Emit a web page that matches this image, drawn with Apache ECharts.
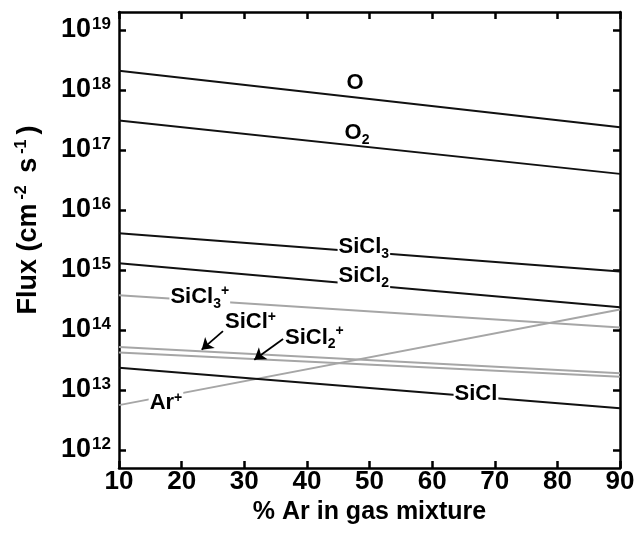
<!DOCTYPE html>
<html>
<head>
<meta charset="utf-8">
<script src="https://cdn.jsdelivr.net/npm/echarts@6/dist/echarts.min.js"></script>
<style>
  html, body { margin: 0; padding: 0; background: #fff; }
  #chart { width: 638px; height: 534px; }
</style>
</head>
<body>
<div id="chart"></div>
<script>
var FONT = 'Liberation Sans, Arial, sans-serif'

// % Ar in gas mixture (end points of each straight line)
var xValues = [10, 90]
var xTicks = [10, 20, 30, 40, 50, 60, 70, 80, 90]
var yTicks = [1e12, 1e13, 1e14, 1e15, 1e16, 1e17, 1e18, 1e19]

// fluxes (cm-2 s-1)
var fluxO = [2.1e18, 2.4e17]
var fluxO2 = [3.1e17, 4.0e16]
var fluxSiCl3 = [4.1e15, 9.4e14]
var fluxSiCl2 = [1.3e15, 2.4e14]
var fluxSiCl3p = [3.8e14, 1.1e14]
var fluxSiClp = [5.2e13, 1.9e13]
var fluxSiCl2p = [4.2e13, 1.67e13]
var fluxSiCl = [2.35e13, 4.95e12]
var fluxArp = [5.6e12, 2.2e14]

function pairs(arr) {
  return xValues.map(function (x, i) { return [x, arr[i]] })
}

var labelRich = {
  m: { fontSize: 22, fontWeight: 'bold', fontFamily: FONT, color: '#000' },
  sub: { fontSize: 14, fontWeight: 'bold', fontFamily: FONT, color: '#000', verticalAlign: 'bottom', padding: [13, 0, 0, 0] },
  sup: { fontSize: 14, fontWeight: 'bold', fontFamily: FONT, color: '#000', verticalAlign: 'top', padding: [0, 0, 11, 0] }
}

// text label placed on a line
function tag(coord, text, whiteBg) {
  return {
    symbol: 'circle',
    symbolSize: 0,
    silent: true,
    data: [{
      coord: coord,
      label: {
        show: true,
        position: 'inside',
        formatter: text,
        rich: labelRich,
        backgroundColor: whiteBg ? '#fff' : 'transparent',
        padding: whiteBg ? [0, 1, 0, 1] : 0
      }
    }]
  }
}

// small arrow pointing at a line
function arrow(from, to) {
  return {
    silent: true,
    symbol: ['none', 'arrow'],
    symbolSize: 11,
    label: { show: false },
    lineStyle: { color: '#000', width: 1.8, type: 'solid' },
    itemStyle: { color: '#000' },
    data: [[{ coord: from }, { coord: to }]]
  }
}

function lineSeries(name, arr, color, width, z) {
  return {
    name: name,
    type: 'line',
    data: pairs(arr),
    showSymbol: false,
    symbol: 'none',
    z: z,
    lineStyle: { color: color, width: width },
    emphasis: { disabled: true }
  }
}

var BLACK = '#111'
var GRAY = '#a6a6a6'

var series = [
  lineSeries('Ar+', fluxArp, GRAY, 2, 2),
  lineSeries('SiCl3+', fluxSiCl3p, GRAY, 2, 2),
  lineSeries('SiCl+', fluxSiClp, GRAY, 2, 2),
  lineSeries('SiCl2+', fluxSiCl2p, GRAY, 2, 2),
  lineSeries('O', fluxO, BLACK, 2, 3),
  lineSeries('O2', fluxO2, BLACK, 2, 3),
  lineSeries('SiCl3', fluxSiCl3, BLACK, 2, 3),
  lineSeries('SiCl2', fluxSiCl2, BLACK, 2, 3),
  lineSeries('SiCl', fluxSiCl, BLACK, 2, 3)
]

series[0].markPoint = tag([17.5, 6.0e12], '{m|Ar}{sup|+}', true)
series[1].markPoint = tag([22.9, 3.5e14], '{m|SiCl}{sub|3}{sup|+}', true)
series[2].markPoint = tag([31.0, 1.35e14], '{m|SiCl}{sup|+}', false)
series[2].markLine = arrow([26.6, 9.6e13], [23.2, 4.7e13])
series[3].markPoint = tag([41.2, 7.4e13], '{m|SiCl}{sub|2}{sup|+}', false)
series[3].markLine = arrow([36.2, 7.1e13], [31.6, 3.2e13])
series[4].markPoint = tag([47.7, 1.3e18], '{m|O}', false)
series[5].markPoint = tag([48.0, 1.9e17], '{m|O}{sub|2}', false)
series[6].markPoint = tag([49.1, 2.4e15], '{m|SiCl}{sub|3}', true)
series[7].markPoint = tag([49.1, 7.9e14], '{m|SiCl}{sub|2}', true)
series[8].markPoint = tag([67.0, 8.5e12], '{m|SiCl}', true)

var tickStyle = { show: true, inside: true, length: 7, lineStyle: { color: '#000', width: 2.5 } }
var axisLineStyle = { show: true, onZero: false, lineStyle: { color: '#000', width: 2.5 } }

var option = {
  animation: false,
  backgroundColor: '#fff',
  grid: { left: 119, right: 18, top: 12, bottom: 66, containLabel: false },
  xAxis: [
    {
      type: 'value',
      min: 10,
      max: 90,
      interval: 10,
      name: '% Ar in gas mixture',
      nameLocation: 'middle',
      nameGap: 27,
      nameTextStyle: { fontSize: 25, fontWeight: 'bold', fontFamily: FONT, color: '#000' },
      axisLine: axisLineStyle,
      axisTick: tickStyle,
      splitLine: { show: false },
      axisLabel: {
        margin: 1,
        fontSize: 26,
        fontWeight: 'bold',
        fontFamily: FONT,
        color: '#000',
        customValues: xTicks
      }
    },
    {
      type: 'value',
      position: 'top',
      min: 10,
      max: 90,
      interval: 10,
      axisLine: axisLineStyle,
      axisTick: tickStyle,
      splitLine: { show: false },
      axisLabel: { show: false }
    }
  ],
  yAxis: [
    {
      type: 'log',
      logBase: 10,
      min: Math.pow(10, 11.7),
      max: Math.pow(10, 19.3),
      name: '{a|Flux (cm}{s|-2}{a| s}{s|-1}{a|)}',
      nameLocation: 'middle',
      nameRotate: 90,
      nameGap: 76,
      nameTextStyle: {
        padding: [0, 0, 0, 40],
        rich: {
          a: { fontSize: 27, fontWeight: 'bold', fontFamily: FONT, color: '#000' },
          s: { fontSize: 16, fontWeight: 'bold', fontFamily: FONT, color: '#000', verticalAlign: 'top', padding: [0, 5, 13, 4] }
        }
      },
      axisLine: axisLineStyle,
      axisTick: Object.assign({}, tickStyle, { customValues: yTicks }),
      splitLine: { show: false },
      minorTick: { show: false },
      axisLabel: {
        margin: 8,
        customValues: yTicks,
        formatter: function (v) {
          return '{b|10}{s|' + Math.round(Math.log10(v)) + '}'
        },
        rich: {
          b: { fontSize: 27, fontWeight: 'bold', fontFamily: FONT, color: '#000' },
          s: { fontSize: 17, fontWeight: 'bold', fontFamily: FONT, color: '#000', verticalAlign: 'top', padding: [0, 0, 12, 1] }
        }
      }
    },
    {
      type: 'log',
      logBase: 10,
      position: 'right',
      min: Math.pow(10, 11.7),
      max: Math.pow(10, 19.3),
      axisLine: axisLineStyle,
      axisTick: Object.assign({}, tickStyle, { customValues: yTicks }),
      splitLine: { show: false },
      minorTick: { show: false },
      axisLabel: { show: false }
    }
  ],
  series: series
}

var chart = echarts.init(document.getElementById('chart'))
chart.setOption(option)
</script>
</body>
</html>
